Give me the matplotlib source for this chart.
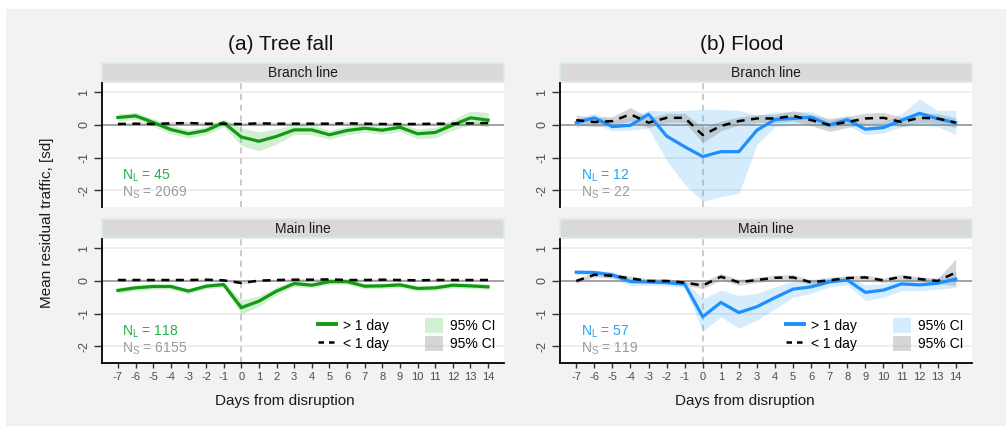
import matplotlib
matplotlib.use("Agg")
import matplotlib.pyplot as plt
from matplotlib.patches import Rectangle, Patch
from matplotlib.lines import Line2D

plt.rcParams['font.family'] = ['Liberation Sans', 'DejaVu Sans']
plt.rcParams['mathtext.fontset'] = 'custom'
plt.rcParams['mathtext.rm'] = 'Liberation Sans'

# ---- data -------------------------------------------------------------
days = list(range(-7, 15))
xtick_labels = [str(d) for d in days]
yticks = [-2, -1, 0, 1]

# (a) Tree fall, branch line
tf_branch_long = [0.23, 0.28, 0.08, -0.14, -0.27, -0.17, 0.07, -0.37, -0.50, -0.35, -0.15,
                  -0.15, -0.30, -0.17, -0.10, -0.16, -0.07, -0.27, -0.23, 0.00, 0.22, 0.15]
tf_branch_long_lo = [0.12, 0.17, -0.04, -0.27, -0.40, -0.30, -0.06, -0.63, -0.80, -0.58, -0.29,
                     -0.30, -0.44, -0.30, -0.22, -0.28, -0.20, -0.42, -0.39, -0.16, 0.02, -0.06]
tf_branch_long_hi = [0.34, 0.39, 0.20, 0.00, -0.14, -0.04, 0.19, -0.09, -0.21, -0.12, 0.00,
                     0.01, -0.16, -0.04, 0.03, -0.04, 0.07, -0.12, -0.07, 0.16, 0.43, 0.38]
tf_branch_short = [0.03, 0.04, 0.03, 0.05, 0.06, 0.04, 0.04, 0.03, 0.05, 0.04, 0.04,
                   0.04, 0.04, 0.05, 0.04, 0.03, 0.03, 0.03, 0.04, 0.04, 0.05, 0.06]
tf_branch_short_lo = [-0.01, 0.00, -0.01, 0.01, 0.02, 0.00, 0.00, -0.01, 0.01, 0.00, 0.00,
                      0.00, 0.00, 0.01, 0.00, -0.01, -0.01, -0.01, 0.00, 0.00, 0.01, 0.02]
tf_branch_short_hi = [0.07, 0.08, 0.07, 0.09, 0.10, 0.08, 0.08, 0.07, 0.09, 0.08, 0.08,
                      0.08, 0.08, 0.09, 0.08, 0.07, 0.07, 0.07, 0.08, 0.08, 0.09, 0.10]

# (a) Tree fall, main line
tf_main_long = [-0.29, -0.21, -0.17, -0.17, -0.31, -0.16, -0.11, -0.82, -0.62, -0.31, -0.08,
                -0.13, -0.02, -0.02, -0.16, -0.15, -0.12, -0.23, -0.21, -0.13, -0.15, -0.18]
tf_main_long_lo = [-0.38, -0.29, -0.25, -0.25, -0.39, -0.24, -0.19, -1.02, -0.78, -0.44, -0.17,
                   -0.21, -0.10, -0.10, -0.24, -0.23, -0.20, -0.31, -0.29, -0.21, -0.23, -0.26]
tf_main_long_hi = [-0.20, -0.13, -0.09, -0.09, -0.23, -0.08, -0.03, -0.58, -0.46, -0.18, 0.01,
                   -0.05, 0.06, 0.07, -0.08, -0.07, -0.04, -0.15, -0.13, -0.05, -0.07, -0.10]
tf_main_short = [0.03, 0.03, 0.03, 0.03, 0.03, 0.04, 0.02, -0.06, 0.01, 0.03, 0.04,
                 0.04, 0.05, 0.03, 0.03, 0.04, 0.03, 0.02, 0.03, 0.03, 0.03, 0.03]
tf_main_short_lo = [0.00, 0.00, 0.00, 0.00, 0.00, 0.01, -0.01, -0.09, -0.02, 0.00, 0.01,
                    0.01, 0.02, 0.00, 0.00, 0.01, 0.00, -0.01, 0.00, 0.00, 0.00, 0.00]
tf_main_short_hi = [0.06, 0.06, 0.06, 0.06, 0.06, 0.07, 0.05, -0.03, 0.04, 0.06, 0.07,
                    0.07, 0.08, 0.06, 0.06, 0.07, 0.06, 0.05, 0.06, 0.06, 0.06, 0.06]

# (b) Flood, branch line
fl_branch_long = [0.07, 0.22, -0.05, -0.01, 0.33, -0.34, -0.67, -0.97, -0.82, -0.82, -0.16,
                  0.17, 0.20, 0.24, 0.00, 0.16, -0.13, -0.08, 0.14, 0.36, 0.19, 0.07]
fl_branch_long_lo = [-0.08, 0.05, -0.18, -0.15, -0.10, -1.10, -1.82, -2.35, -2.20, -2.10, -0.60,
                     -0.05, 0.00, 0.05, -0.10, 0.00, -0.30, -0.25, -0.05, 0.00, -0.05, -0.30]
fl_branch_long_hi = [0.20, 0.35, 0.15, 0.25, 0.45, 0.43, 0.45, 0.48, 0.47, 0.45, 0.30,
                     0.40, 0.40, 0.42, 0.15, 0.30, 0.05, 0.10, 0.35, 0.80, 0.45, 0.45]
fl_branch_short = [0.15, 0.09, 0.12, 0.33, 0.07, 0.22, 0.22, -0.31, -0.03, 0.12, 0.20,
                   0.20, 0.28, 0.15, 0.00, 0.09, 0.20, 0.22, 0.09, 0.22, 0.20, 0.07]
fl_branch_short_lo = [0.00, -0.05, -0.02, 0.12, -0.08, 0.08, 0.08, -0.55, -0.18, 0.00, 0.08,
                      0.07, 0.12, -0.02, -0.20, -0.08, 0.04, 0.05, -0.06, 0.07, 0.05, -0.08]
fl_branch_short_hi = [0.30, 0.23, 0.26, 0.54, 0.22, 0.36, 0.36, -0.07, 0.12, 0.24, 0.32,
                      0.33, 0.44, 0.32, 0.20, 0.26, 0.36, 0.39, 0.24, 0.37, 0.35, 0.22]

# (b) Flood, main line
fl_main_long = [0.27, 0.26, 0.19, -0.02, -0.03, -0.05, -0.10, -1.10, -0.66, -0.97, -0.79,
                -0.51, -0.25, -0.18, -0.03, 0.03, -0.35, -0.28, -0.09, -0.12, -0.07, 0.06]
fl_main_long_lo = [0.20, 0.18, 0.08, -0.15, -0.13, -0.15, -0.20, -1.55, -1.10, -1.45, -1.20,
                   -0.85, -0.50, -0.38, -0.18, -0.12, -0.60, -0.50, -0.30, -0.30, -0.25, -0.20]
fl_main_long_hi = [0.33, 0.33, 0.28, 0.10, 0.07, 0.05, 0.00, -0.55, -0.28, -0.45, -0.38,
                   -0.18, 0.00, 0.05, 0.12, 0.15, -0.12, -0.08, 0.10, 0.07, 0.12, 0.30]
fl_main_short = [0.00, 0.19, 0.16, 0.08, 0.00, 0.00, -0.05, -0.14, 0.13, -0.04, 0.03,
                 0.10, 0.11, -0.04, 0.02, 0.09, 0.11, 0.02, 0.13, 0.06, 0.00, 0.26]
fl_main_short_lo = [-0.07, 0.12, 0.09, 0.01, -0.07, -0.07, -0.12, -0.24, 0.03, -0.13, -0.05,
                    0.02, 0.02, -0.11, -0.05, 0.02, 0.04, -0.05, 0.06, -0.01, -0.07, -0.15]
fl_main_short_hi = [0.07, 0.26, 0.23, 0.15, 0.07, 0.07, 0.02, -0.04, 0.23, 0.05, 0.11,
                    0.18, 0.20, 0.03, 0.09, 0.16, 0.18, 0.09, 0.20, 0.13, 0.07, 0.68]

column_titles = ['(a) Tree fall', '(b) Flood']
strip_titles = ['Branch line', 'Main line']
n_long = [[45, 118], [12, 57]]
n_short = [[2069, 6155], [22, 119]]

# ---- styling ------------------------------------------------------------
W, H = 1006, 426
GREEN, GREEN_FILL, GREEN_TEXT = '#129b12', '#2eb82e', '#25b04a'
BLUE, BLUE_FILL, BLUE_TEXT = '#1e8fff', '#3fa9f5', '#1fa6f0'
GREY_FILL = '#8c8c8c'
TICK_COLOR = '#4d4d4d'

fig = plt.figure(figsize=(W / 100, H / 100), dpi=100)
fig.patch.set_facecolor('white')
fig.patches.append(Rectangle((6 / W, 0), 1 - 6 / W, (H - 9) / H, transform=fig.transFigure,
                             facecolor='#f2f2f2', edgecolor='none', zorder=-10))


def px_axes(x0, y0, x1, y1):
    return fig.add_axes([x0 / W, 1 - y1 / H, (x1 - x0) / W, (y1 - y0) / H])


def strip(x0, y0, x1, y1, label):
    s = px_axes(x0, y0, x1, y1)
    s.set_facecolor('#d9d9d9')
    for sp in s.spines.values():
        sp.set_edgecolor('#dcecf0')
        sp.set_linewidth(1.2)
    s.set_xticks([])
    s.set_yticks([])
    s.text(0.5, 0.47, label, ha='center', va='center', fontsize=10, color='#1a1a1a',
           transform=s.transAxes)


def panel(ax, series, line_color, fill_color, bottom, nl, ns, n_color, legend):
    (m_l, lo_l, hi_l, m_s, lo_s, hi_s) = series
    ax.set_facecolor('white')
    ax.set_xlim(-7.9, 14.9)
    ax.set_ylim(-2.52, 1.29)
    for y in [-2, -1, 1]:
        ax.axhline(y, color='#ebebeb', lw=1.2, zorder=0)
    ax.axhline(0, color='#8a8a8a', lw=1.1, zorder=1)
    ax.axvline(0, color='#bdbdbd', lw=1.1, ls=(0, (4, 3)), zorder=1)
    ax.fill_between(days, lo_l, hi_l, color=fill_color, alpha=0.22, lw=0, zorder=2)
    ax.fill_between(days, lo_s, hi_s, color=GREY_FILL, alpha=0.35, lw=0, zorder=2)
    ax.plot(days, m_l, color=line_color, lw=2.3, zorder=3, solid_joinstyle='round')
    ax.plot(days, m_s, color='black', lw=1.8, dashes=(3.2, 2.6), zorder=4)

    ax.set_yticks(yticks)
    ax.set_yticklabels([str(v) for v in yticks], rotation=90, va='center')
    ax.tick_params(axis='y', length=5.5, width=1.0, color='#333333', labelsize=9,
                   labelcolor=TICK_COLOR, pad=3)
    for side in ('top', 'right'):
        ax.spines[side].set_visible(False)
    ax.spines['left'].set_linewidth(1.3)
    ax.spines['left'].set_color('black')
    if bottom:
        ax.set_xticks(days)
        ax.set_xticklabels(xtick_labels)
        ax.tick_params(axis='x', length=3.5, width=1.0, color='#333333', labelsize=8,
                       labelcolor=TICK_COLOR, pad=3)
        ax.spines['bottom'].set_linewidth(1.3)
        ax.spines['bottom'].set_color('black')
    else:
        ax.set_xticks([])
        ax.spines['bottom'].set_visible(False)

    ax.text(-6.75, -1.55, r'N$_\mathrm{L}$ = %d' % nl, color=n_color, fontsize=10, va='center')
    ax.text(-6.75, -2.07, r'N$_\mathrm{S}$ = %d' % ns, color='#9a9a9a', fontsize=10, va='center')

    if legend:
        handles = [Line2D([], [], color=line_color, lw=2.8),
                   Line2D([], [], color='black', lw=1.8, dashes=(2.2, 2.0)),
                   Patch(facecolor=fill_color, alpha=0.22, edgecolor='none'),
                   Patch(facecolor=GREY_FILL, alpha=0.35, edgecolor='none')]
        labels = ['> 1 day', '< 1 day', '95% CI', '95% CI']
        ax.legend(handles, labels, ncol=2, loc='lower right', bbox_to_anchor=(1.0, 0.03),
                  frameon=False, fontsize=10, handlelength=1.3, handleheight=1.25,
                  handletextpad=0.5, columnspacing=2.6, labelspacing=0.2,
                  borderaxespad=0.2)


columns = [
    dict(x0=102, x1=504, color=GREEN, fill=GREEN_FILL, text=GREEN_TEXT,
         series=[(tf_branch_long, tf_branch_long_lo, tf_branch_long_hi,
                  tf_branch_short, tf_branch_short_lo, tf_branch_short_hi),
                 (tf_main_long, tf_main_long_lo, tf_main_long_hi,
                  tf_main_short, tf_main_short_lo, tf_main_short_hi)],
         title_x=281, xlabel_x=285),
    dict(x0=560, x1=972, color=BLUE, fill=BLUE_FILL, text=BLUE_TEXT,
         series=[(fl_branch_long, fl_branch_long_lo, fl_branch_long_hi,
                  fl_branch_short, fl_branch_short_lo, fl_branch_short_hi),
                 (fl_main_long, fl_main_long_lo, fl_main_long_hi,
                  fl_main_short, fl_main_short_lo, fl_main_short_hi)],
         title_x=742, xlabel_x=745),
]

rows = [dict(strip=(63, 82), plot=(83, 207)), dict(strip=(219, 238), plot=(239, 363))]

for ci, col in enumerate(columns):
    for ri, row in enumerate(rows):
        strip(col['x0'], row['strip'][0], col['x1'], row['strip'][1], strip_titles[ri])
        ax = px_axes(col['x0'], row['plot'][0], col['x1'], row['plot'][1])
        panel(ax, col['series'][ri], col['color'], col['fill'], bottom=(ri == 1),
              nl=n_long[ci][ri], ns=n_short[ci][ri], n_color=col['text'], legend=(ri == 1))
    fig.text(col['title_x'] / W, 1 - 44 / H, column_titles[ci], ha='center', va='center',
             fontsize=15, color='#111111',
             family=['Liberation Sans Narrow', 'Liberation Sans', 'DejaVu Sans'])
    fig.text(col['xlabel_x'] / W, 1 - 401 / H, 'Days from disruption', ha='center',
             va='center', fontsize=11, color='#1a1a1a')

fig.text(47 / W, 1 - 223 / H, 'Mean residual traffic, [sd]', rotation=90, ha='center',
         va='center', fontsize=11, color='#1a1a1a')

fig.savefig('out.png', dpi=100, facecolor=fig.get_facecolor())
